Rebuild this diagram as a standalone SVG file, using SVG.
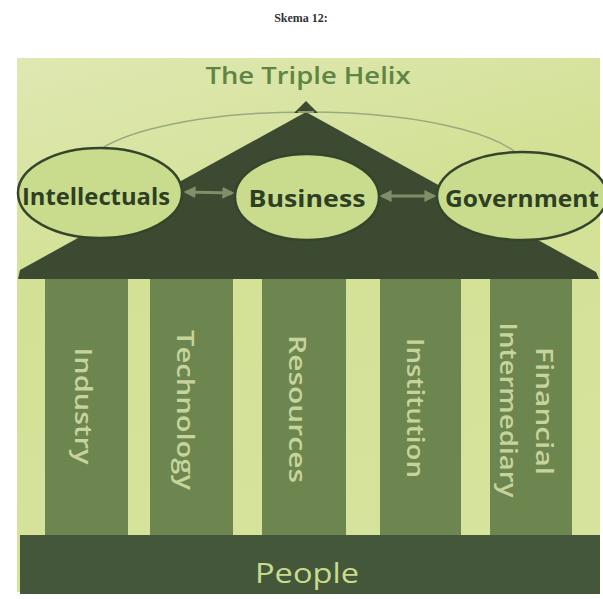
<svg xmlns="http://www.w3.org/2000/svg" width="603" height="599" viewBox="0 0 603 599">
<defs>
<linearGradient id="bg" x1="0" y1="0" x2="0.3" y2="1">
<stop offset="0" stop-color="#dfe8b2"/>
<stop offset="0.4" stop-color="#d3e196"/>
<stop offset="1" stop-color="#d6e39c"/>
</linearGradient>
<marker id="ah" viewBox="0 0 10 10" refX="8" refY="5" markerWidth="4" markerHeight="4" orient="auto-start-reverse">
<path d="M0,0 L10,5 L0,10 z" fill="#7f8f6a"/>
</marker>
<style>
.ell{fill:#c9dc8e;stroke:#35452a;stroke-width:2.5}
.lbl{font-family:"Open Sans","DejaVu Sans",sans-serif;font-weight:bold;font-size:24px;fill:#2f3f24;text-anchor:middle}
.pillar{fill:#6d8650}
.ptxt{font-family:"Open Sans","DejaVu Sans",sans-serif;font-weight:600;font-size:23px;fill:#c6d49c;text-anchor:middle}
.conn{stroke:#7f8f6a;stroke-width:3;fill:none}
</style>
</defs>
<rect width="603" height="599" fill="#ffffff"/>
<text x="301" y="22" font-family="Liberation Serif,serif" font-weight="bold" font-size="12" fill="#333" text-anchor="middle">Skema 12:</text>
<rect x="17" y="58" width="583" height="534" fill="url(#bg)"/>
<text x="308" y="84" font-family="Open Sans,DejaVu Sans,sans-serif" font-weight="600" font-size="24" fill="#5f8545" text-anchor="middle" textLength="205" lengthAdjust="spacingAndGlyphs">The Triple Helix</text>
<ellipse cx="306" cy="172" rx="222" ry="60" fill="none" stroke="#9aaa80" stroke-width="1.5"/>
<g id="roof">
<path d="M306,112 L20,270 L18,279 L599,279 L596,272 Z" fill="#3c4a32"/>
<path d="M306,101 L294,113 L318,113 Z" fill="#3c4a32"/>
<path d="M298,112 L314,112" stroke="#a9b98a" stroke-width="1.5"/>
</g>
<g id="pillars">
<g id="industry"><rect class="pillar" x="45" y="279" width="83" height="256"/>
<text class="ptxt" transform="translate(83,406) rotate(90)" y="8" textLength="117" lengthAdjust="spacingAndGlyphs">Industry</text></g>
<g id="technology"><rect class="pillar" x="150" y="279" width="83" height="256"/>
<text class="ptxt" transform="translate(185,410) rotate(90)" y="8" textLength="160" lengthAdjust="spacingAndGlyphs">Technology</text></g>
<g id="resources"><rect class="pillar" x="262" y="279" width="84" height="256"/>
<text class="ptxt" transform="translate(297,409) rotate(90)" y="8" textLength="148" lengthAdjust="spacingAndGlyphs">Resources</text></g>
<g id="institution"><rect class="pillar" x="380" y="279" width="81" height="256"/>
<text class="ptxt" transform="translate(415,408) rotate(90)" y="8" textLength="140" lengthAdjust="spacingAndGlyphs">Institution</text></g>
<g id="financial"><rect class="pillar" x="490" y="279" width="82" height="256"/>
<text class="ptxt" transform="translate(544,411) rotate(90)" y="8" textLength="128" lengthAdjust="spacingAndGlyphs">Financial</text>
<text class="ptxt" transform="translate(508,410) rotate(90)" y="8" textLength="175" lengthAdjust="spacingAndGlyphs">Intermediary</text></g>
</g>
<g id="people">
<rect x="20" y="535" width="580" height="59" fill="#44573b"/>
<text x="307" y="583" font-family="Open Sans,DejaVu Sans,sans-serif" font-size="28" fill="#c9dc8d" text-anchor="middle" textLength="104" lengthAdjust="spacingAndGlyphs">People</text>
</g>
<g id="connectors">
<line class="conn" x1="186" y1="192" x2="232" y2="193" marker-start="url(#ah)" marker-end="url(#ah)"/>
<line class="conn" x1="382" y1="196" x2="434" y2="196" marker-start="url(#ah)" marker-end="url(#ah)"/>
</g>
<g id="intellectuals">
<ellipse class="ell" cx="100" cy="193" rx="82" ry="45"/>
<text class="lbl" x="96" y="205" textLength="148" lengthAdjust="spacingAndGlyphs">Intellectuals</text>
</g>
<g id="business">
<ellipse class="ell" cx="307" cy="197" rx="72" ry="43"/>
<text class="lbl" x="307" y="207" textLength="117" lengthAdjust="spacingAndGlyphs">Business</text>
</g>
<g id="government">
<ellipse class="ell" cx="522" cy="196" rx="85" ry="44"/>
<text class="lbl" x="522" y="207" textLength="154" lengthAdjust="spacingAndGlyphs">Government</text>
</g>
</svg>
